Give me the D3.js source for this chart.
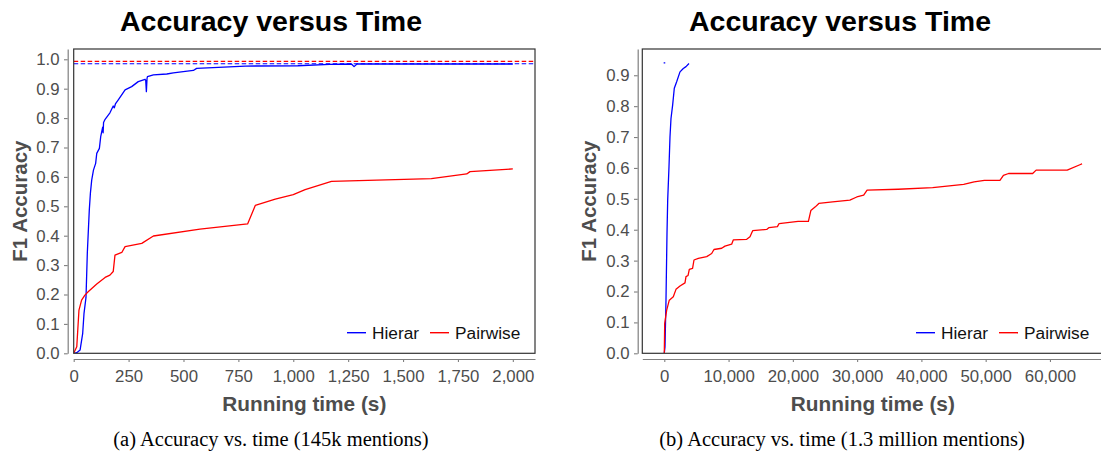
<!DOCTYPE html>
<html>
<head>
<meta charset="utf-8">
<script src="https://cdn.jsdelivr.net/npm/d3@7"></script>
<style>
  html, body { margin: 0; padding: 0; background: #fff; }
  svg { display: block; }
  text { font-family: "Liberation Sans", Arial, Helvetica, sans-serif; }
  .caption { font-family: "Liberation Serif", "Times New Roman", serif; }
</style>
</head>
<body>
<svg id="chart" width="1101" height="461"></svg>
<script>
// ---------------- DATA ----------------
const seriesNames = ["Hierar", "Pairwise"];
const seriesColors = ["#0000ff", "#ff0000"];

// Panel (a): 145k mentions, time in seconds
const hierarA = [[0,0],[14,0.002],[29,0.011],[41,0.068],[47,0.136],[56,0.19],[62,0.34],[71,0.487],[76,0.544],[82,0.589],[90,0.623],[100,0.646],[105,0.68],[117,0.697],[123,0.737],[132,0.769],[134,0.75],[136,0.785],[143,0.796],[165,0.818],[180,0.841],[185,0.835],[190,0.848],[203,0.862],[234,0.896],[264,0.907],[294,0.924],[325,0.932],[328,0.928],[331,0.89],[334,0.935],[336,0.941],[363,0.947],[424,0.95],[454,0.954],[499,0.958],[545,0.962],[560,0.969],[782,0.977],[1021,0.978],[1165,0.983],[1265,0.984],[1277,0.975],[1290,0.984],[2000,0.984]];
const pairwiseA = [[0,0],[14,0.022],[24,0.147],[36,0.181],[51,0.198],[67,0.21],[105,0.236],[143,0.258],[165,0.266],[180,0.278],[188,0.334],[219,0.343],[234,0.363],[310,0.374],[363,0.399],[575,0.422],[792,0.44],[827,0.503],[918,0.524],[1000,0.54],[1054,0.557],[1174,0.585],[1629,0.594],[1790,0.61],[1805,0.618],[2000,0.627]];
const refLinesA = [0.985, 0.993]; // Hierar, Pairwise dashed reference levels
const xTicksA = [0, 250, 500, 750, 1000, 1250, 1500, 1750, 2000];
const yTicksA = [0, 0.1, 0.2, 0.3, 0.4, 0.5, 0.6, 0.7, 0.8, 0.9, 1.0];

// Panel (b): 1.3 million mentions
const hierarB = [[0,0],[109,0.021],[264,0.172],[420,0.388],[529,0.496],[731,0.604],[887,0.701],[1042,0.76],[1302,0.804],[1556,0.858],[1925,0.879],[2443,0.911],[2956,0.922],[3376,0.928],[3843,0.938]];
const hierarStrayB = [[-100,0.94],[150,0.94]];
const pairwiseB = [[0,0],[62,0.097],[373,0.14],[778,0.172],[1400,0.183],[1820,0.207],[2443,0.218],[3220,0.228],[3376,0.248],[3700,0.252],[3890,0.272],[4400,0.275],[4620,0.302],[5290,0.307],[6600,0.313],[7370,0.323],[7730,0.336],[8930,0.34],[9440,0.347],[10480,0.353],[10730,0.367],[12820,0.369],[13330,0.377],[13750,0.397],[15930,0.401],[16300,0.407],[17600,0.41],[17860,0.42],[20810,0.427],[22420,0.427],[22800,0.462],[23500,0.474],[24040,0.485],[26180,0.49],[28870,0.496],[29950,0.506],[31020,0.512],[31550,0.528],[36390,0.531],[41750,0.536],[46580,0.547],[48200,0.555],[49800,0.56],[52220,0.56],[52760,0.576],[53560,0.582],[57310,0.582],[57850,0.593],[62680,0.593],[64840,0.612],[65000,0.613]];
const xTicksB = [0, 10000, 20000, 30000, 40000, 50000, 60000];
const yTicksB = [0, 0.1, 0.2, 0.3, 0.4, 0.5, 0.6, 0.7, 0.8, 0.9];

const titleText = "Accuracy versus Time";
const xTitle = "Running time (s)";
const yTitle = "F1 Accuracy";
const captionA = "(a) Accuracy vs. time (145k mentions)";
const captionB = "(b) Accuracy vs. time (1.3 million mentions)";

// ---------------- DRAW ----------------
const svg = d3.select("#chart");
svg.append("rect").attr("width", 1101).attr("height", 461).attr("fill", "#fff");
const fmt = d3.format(",");

function panel(cfg) {
  const g = svg.append("g");
  const x = d3.scaleLinear().domain(cfg.xDomain).range([cfg.left, cfg.right]);
  const y = d3.scaleLinear().domain(cfg.yDomain).range([cfg.bottom, cfg.top]);

  const clipId = "clip" + cfg.id;
  svg.append("clipPath").attr("id", clipId).append("rect")
    .attr("x", cfg.left).attr("y", cfg.top)
    .attr("width", cfg.right - cfg.left).attr("height", cfg.bottom - cfg.top);

  const plot = g.append("g").attr("clip-path", `url(#${clipId})`);

  // dashed reference lines
  (cfg.refs || []).forEach((v, i) => {
    plot.append("line")
      .attr("x1", cfg.left).attr("x2", cfg.right)
      .attr("y1", y(v)).attr("y2", y(v))
      .attr("stroke", seriesColors[i]).attr("stroke-width", 1.1)
      .attr("stroke-dasharray", "4.5,2.5");
  });

  const line = d3.line().x(d => x(d[0])).y(d => y(d[1]));
  cfg.series.forEach(s => {
    plot.append("path").datum(s.data)
      .attr("d", line).attr("fill", "none")
      .attr("stroke", s.color).attr("stroke-width", 1.3)
      .attr("stroke-linejoin", "round");
  });

  // panel border
  g.append("rect")
    .attr("x", cfg.left).attr("y", cfg.top)
    .attr("width", cfg.right - cfg.left).attr("height", cfg.bottom - cfg.top)
    .attr("fill", "none").attr("stroke", "#333").attr("stroke-width", 1.2);

  // y axis (offset)
  const yAxis = g.append("g").attr("transform", `translate(${cfg.left - cfg.yOff},0)`)
    .call(d3.axisLeft(y).tickValues(cfg.yTicks).tickFormat(d3.format(".1f"))
      .tickSize(3.7).tickSizeOuter(0).tickPadding(4.5));
  // x axis (offset)
  const xAxis = g.append("g").attr("transform", `translate(0,${cfg.bottom + 5.7})`)
    .call(d3.axisBottom(x).tickValues(cfg.xTicks).tickFormat(fmt)
      .tickSize(3).tickSizeOuter(0).tickPadding(8));
  [yAxis, xAxis].forEach(a => {
    a.select(".domain").attr("stroke", "#7f7f7f").attr("stroke-width", 1.2);
    a.selectAll(".tick line").attr("stroke", "#7f7f7f").attr("stroke-width", 1.1);
    a.selectAll(".tick text").attr("fill", "#4d4d4d").style("font-size", "16.8px")
      .style("font-family", '"Liberation Sans", Arial, Helvetica, sans-serif');
  });
  yAxis.attr("font-size", null);
  xAxis.attr("font-size", null);

  // titles
  g.append("text").attr("x", cfg.titleX).attr("y", 31)
    .attr("text-anchor", "middle").style("font-size", "28.5px").style("font-weight", "bold")
    .attr("fill", "#000").text(titleText);
  g.append("text").attr("x", (cfg.left + cfg.right) / 2).attr("y", 410.5)
    .attr("text-anchor", "middle").style("font-size", "20.8px").style("font-weight", "bold")
    .attr("fill", "#4d4d4d").text(xTitle);
  g.append("text")
    .attr("transform", `translate(${cfg.yTitleX},${(cfg.top + cfg.bottom) / 2}) rotate(-90)`)
    .attr("text-anchor", "middle").attr("dominant-baseline", "central")
    .style("font-size", "20.5px").style("font-weight", "bold")
    .attr("fill", "#4d4d4d").text(yTitle);
  g.append("text").attr("class", "caption").attr("x", cfg.captionX).attr("y", 446)
    .attr("text-anchor", "middle").style("font-size", "20.5px")
    .attr("fill", "#000").text(cfg.caption);

  // legend
  const ly = 332.7;
  cfg.legend.forEach((it, i) => {
    g.append("line").attr("x1", it.x).attr("x2", it.x + 19)
      .attr("y1", ly).attr("y2", ly)
      .attr("stroke", seriesColors[i]).attr("stroke-width", 1.4);
    g.append("text").attr("x", it.x + 25).attr("y", ly)
      .attr("dominant-baseline", "central")
      .style("font-size", "17.3px").attr("fill", "#111").text(seriesNames[i]);
  });
}

panel({
  id: "A", left: 73.7, right: 535, top: 49, bottom: 353.3, yOff: 6,
  xDomain: [0, 2101], yDomain: [0, 1.035],
  xTicks: xTicksA, yTicks: yTicksA, refs: refLinesA,
  series: [{data: hierarA, color: seriesColors[0]}, {data: pairwiseA, color: seriesColors[1]}],
  titleX: 271, yTitleX: 19, captionX: 271, caption: captionA,
  legend: [{x: 347}, {x: 430}]
});

panel({
  id: "B", left: 642.3, right: 1103.3, top: 49, bottom: 353.3, yOff: 4.6,
  xDomain: [-3422, 68300], yDomain: [0, 0.985],
  xTicks: xTicksB, yTicks: yTicksB, refs: [],
  series: [{data: hierarB, color: seriesColors[0]}, {data: hierarStrayB, color: seriesColors[0]}, {data: pairwiseB, color: seriesColors[1]}],
  titleX: 840, yTitleX: 588, captionX: 842, caption: captionB,
  legend: [{x: 916}, {x: 999}]
});
</script>
</body>
</html>
